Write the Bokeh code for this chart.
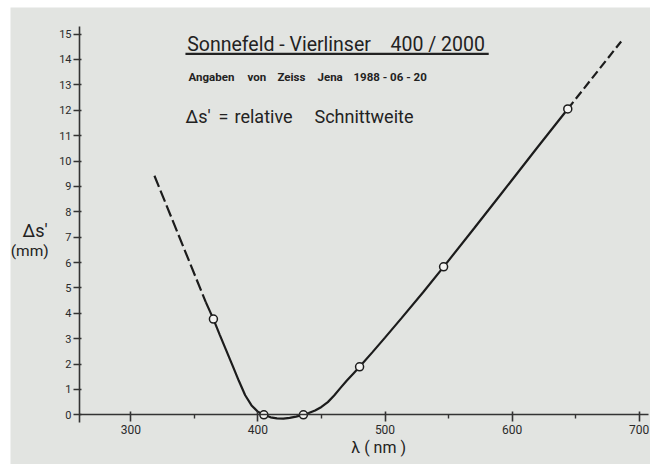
from bokeh.plotting import figure
from bokeh.models import Range1d, FixedTicker, BoxAnnotation
from bokeh.core.properties import value
from bokeh.embed import file_html
from bokeh.resources import INLINE

# ---- data ----
point_wl = [365.0, 404.7, 435.8, 480.0, 546.1, 643.8]
point_ds = [3.77, 0.0, 0.0, 1.89, 5.83, 12.05]

curve_wl = [359.0, 365.0, 370.0, 375.0, 380.0, 385.0, 390.0, 395.0, 400.0, 404.7,
            410.0, 415.0, 420.0, 425.0, 430.0, 435.8, 440.0, 445.0, 450.0, 455.0,
            460.0, 465.0, 470.0, 475.0, 480.0, 490.0, 500.0, 513.0, 530.0, 546.1,
            570.0, 591.0, 620.0, 643.8]
curve_ds = [4.44, 3.77, 3.15, 2.55, 1.95, 1.34, 0.77, 0.37, 0.12, 0.0,
            -0.10, -0.14, -0.15, -0.12, -0.07, 0.0, 0.07, 0.17, 0.31, 0.50,
            0.76, 1.06, 1.35, 1.62, 1.89, 2.46, 3.04, 3.81, 4.83, 5.83,
            7.34, 8.68, 10.54, 12.05]

dash_left_wl = [318.6, 359.0]
dash_left_ds = [9.42, 4.44]
dash_right_wl = [643.8, 685.8]
dash_right_ds = [12.05, 14.71]

x_major = [300, 400, 500, 600, 700]
x_minor = [350, 450, 550, 650]
y_ticks = list(range(0, 16))

title_left = "Sonnefeld - Vierlinser"
title_right = "400 / 2000"
subtitle_words = ["Angaben", "von", "Zeiss", "Jena", "1988 - 06 - 20"]
defn_parts = ["\u0394s\u2032", "=", "relative", "Schnittweite"]
ylab1 = "\u0394s\u2032"
ylab2 = "(mm)"
xlab = "\u03bb ( nm )"

# ---- styling ----
BG = "#e2e4e1"
INK = "#1c1c1c"
TXT = "#222222"
FONT = "Roboto"

p = figure(width=650, height=464,
           x_range=Range1d(205.35, 708.89), y_range=Range1d(-1.958, 16.048),
           output_backend="svg", toolbar_location=None,
           min_border_left=10, min_border_right=0,
           min_border_top=7, min_border_bottom=0)
p.background_fill_color = BG
p.border_fill_color = "white"
p.outline_line_color = None
p.xgrid.visible = False
p.ygrid.visible = False

xa = p.xaxis[0]
xa.fixed_location = 0
xa.bounds = (259.64, 707.3)
xa.ticker = FixedTicker(ticks=x_major, minor_ticks=x_minor)
xa.axis_line_color = "#333333"
xa.axis_line_width = 1.6
xa.major_tick_line_color = "#333333"
xa.major_tick_line_width = 1.6
xa.major_tick_in = 3
xa.major_tick_out = 7
xa.minor_tick_line_color = "#333333"
xa.minor_tick_line_width = 1.4
xa.minor_tick_in = 0
xa.minor_tick_out = 4
xa.major_label_text_font = FONT
xa.major_label_text_font_size = "12px"
xa.major_label_text_color = "#2a2a2a"
xa.major_label_standoff = 3

ya = p.yaxis[0]
ya.fixed_location = 259.64
ya.bounds = (-0.3, 15.3)
ya.ticker = FixedTicker(ticks=y_ticks)
ya.axis_line_color = "#333333"
ya.axis_line_width = 1.6
ya.major_tick_line_color = "#333333"
ya.major_tick_line_width = 1.4
ya.major_tick_in = 2
ya.major_tick_out = 6
ya.minor_tick_line_color = None
ya.major_label_text_font = FONT
ya.major_label_text_font_size = "11px"
ya.major_label_text_color = "#2a2a2a"
ya.major_label_standoff = 2

# curve
p.line(curve_wl, curve_ds, line_color=INK, line_width=2.2)
p.line(dash_left_wl, dash_left_ds, line_color=INK, line_width=2.2, line_dash="12 4")
p.line(dash_right_wl, dash_right_ds, line_color=INK, line_width=2.2, line_dash="9 4")
p.scatter(point_wl, point_ds, size=8, marker="circle", fill_color="#f4f4f2",
          line_color=INK, line_width=1.5)

# texts
def add_text(x, y, text, size, align="left", style="normal"):
    p.text(x=[x], y=[y], text=[text], text_font=value(FONT), text_font_size=size,
           text_color=TXT, text_align=align, text_baseline="alphabetic",
           text_font_style=style)

add_text(344.4, 14.60, title_left, "19.5px")
add_text(504.3, 14.60, title_right, "19.5px")
p.add_layout(BoxAnnotation(left=343.0, right=581.6, top=14.27, bottom=14.18,
                           fill_color="#222222", fill_alpha=1.0, line_color=None))
for word, wx in zip(subtitle_words, [345.4, 391.8, 415.4, 446.9, 475.2]):
    add_text(wx, 13.29, word, "11.5px", style="bold")
for part, px_ in zip(defn_parts, [343.0, 369.0, 381.6, 444.5]):
    add_text(px_, 11.77, part, "18px")
add_text(214.8, 7.27, ylab1, "18px")
add_text(205.6, 6.46, ylab2, "15.5px")
add_text(495.0, -1.27, xlab, "16px", align="center")

open("out.html", "w").write(file_html(p, INLINE))
